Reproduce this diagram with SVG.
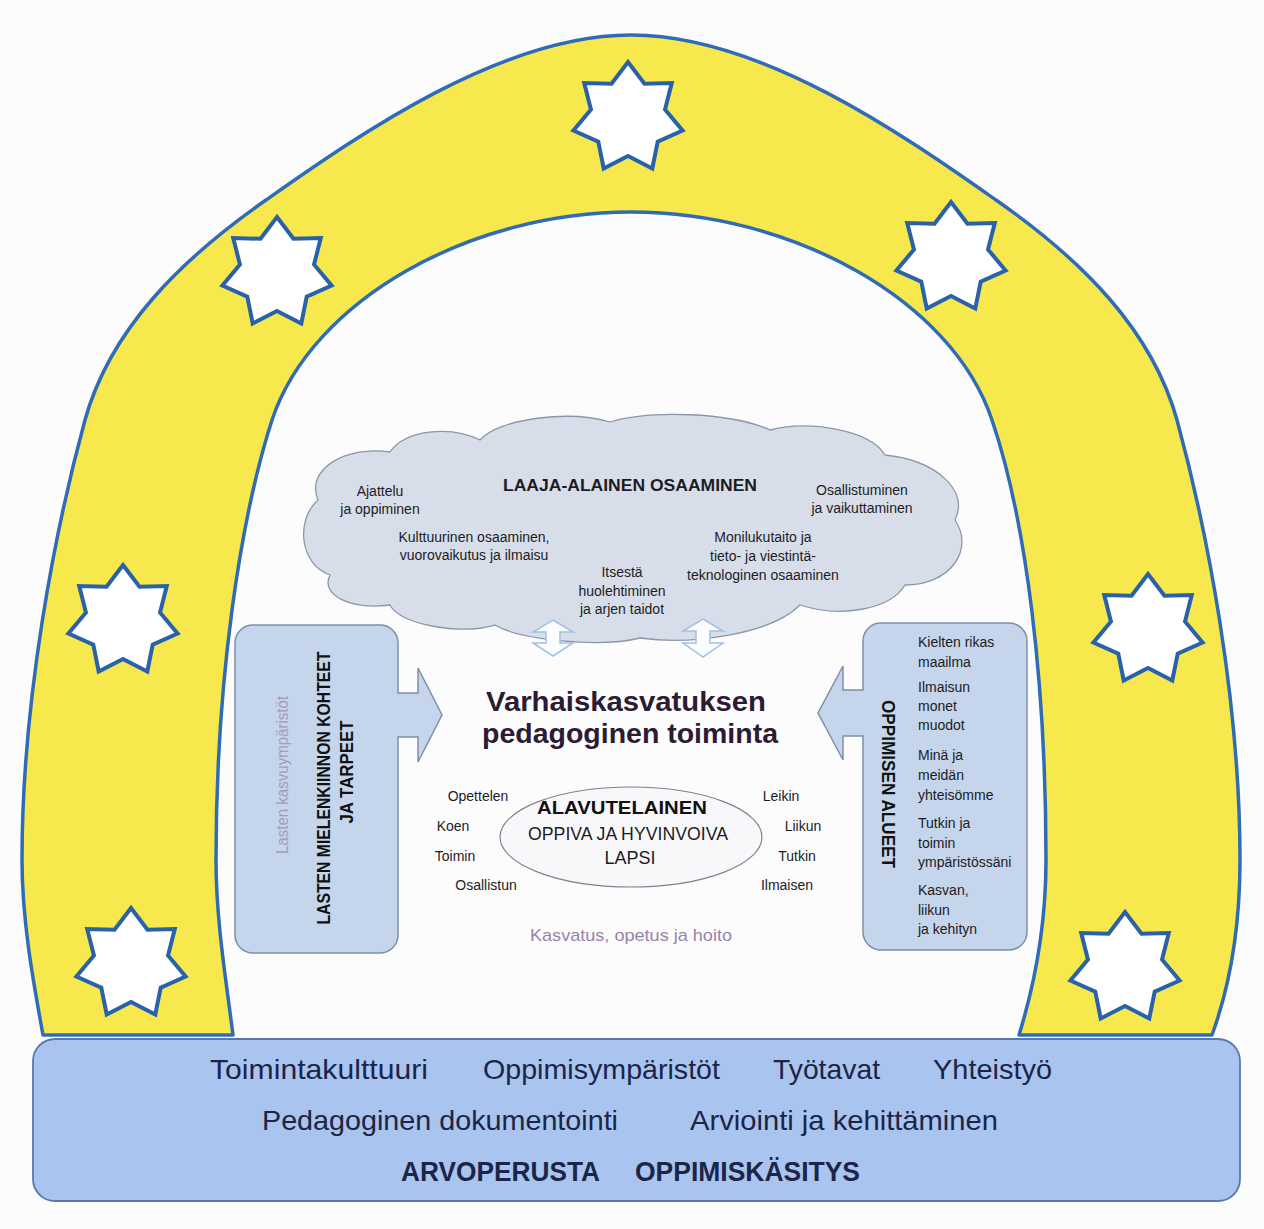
<svg xmlns="http://www.w3.org/2000/svg" xmlns:xlink="http://www.w3.org/1999/xlink" width="1264" height="1229" viewBox="0 0 1264 1229">
<defs>
<style>
text{font-family:"Liberation Sans","DejaVu Sans",sans-serif;fill:#1c1c24}
.s14{font-size:14px}
.band{font-size:28px;fill:#1c2448}
.bandb{font-size:27px;font-weight:bold;fill:#1c2448}
.title{font-size:28px;font-weight:bold;fill:#2b1b33}
.vb{font-size:18px;font-weight:bold;fill:#111}
.mid{text-anchor:middle}
.star{fill:#fff;stroke:#2a62aa;stroke-width:4;stroke-linejoin:miter}
.box{fill:#c4d5ec;stroke:#7f8ea8;stroke-width:1.5}
.dbl{fill:#fbfcfe;stroke:#9fc2e2;stroke-width:1.5}
</style>
<polygon id="star" points="0,-56 16.49,-34.24 43.78,-34.92 37.05,-8.46 54.59,12.46 29.71,23.69 24.3,50.46 0,38 -24.3,50.46 -29.71,23.69 -54.59,12.46 -37.05,-8.46 -43.78,-34.92 -16.49,-34.24"/>
</defs>
<rect width="1264" height="1229" fill="#fcfcfd"/>

<g id="arch">
<path d="M43,1035 C33,980 22,920 22,860 C22,700 55,530 85,420 C110,330 180,260 266,200 C356,137 500,35 631,35 C762,35 906,137 996,200 C1082,260 1152,330 1177,420 C1207,530 1240,700 1240,860 C1240,920 1232,980 1212,1035 L1019,1035 C1036,980 1046,920 1046,860 C1046,680 1026,520 992,420 C952,300 792,212 631,212 C470,212 312,300 272,420 C240,520 216,680 216,860 C216,920 226,980 233,1035 Z" fill="#f7e84e" stroke="#2f6cb5" stroke-width="3.5" stroke-linejoin="round"/>
<use xlink:href="#star" href="#star" class="star" transform="translate(628,118)"/>
<use xlink:href="#star" href="#star" class="star" transform="translate(277,273)"/>
<use xlink:href="#star" href="#star" class="star" transform="translate(951,258)"/>
<use xlink:href="#star" href="#star" class="star" transform="translate(123,621)"/>
<use xlink:href="#star" href="#star" class="star" transform="translate(1148,630)"/>
<use xlink:href="#star" href="#star" class="star" transform="translate(131,964)"/>
<use xlink:href="#star" href="#star" class="star" transform="translate(1125,968)"/>
</g>

<g id="base">
<rect x="33" y="1039" width="1207" height="162" rx="22" fill="#a9c5ef" stroke="#5a78ac" stroke-width="1.8"/>
<text class="band" x="210" y="1079" textLength="218" lengthAdjust="spacingAndGlyphs">Toimintakulttuuri</text>
<text class="band" x="483" y="1079" textLength="237" lengthAdjust="spacingAndGlyphs">Oppimisympäristöt</text>
<text class="band" x="773" y="1079" textLength="107" lengthAdjust="spacingAndGlyphs">Työtavat</text>
<text class="band" x="933" y="1079" textLength="119" lengthAdjust="spacingAndGlyphs">Yhteistyö</text>
<text class="band" x="262" y="1130" textLength="356" lengthAdjust="spacingAndGlyphs">Pedagoginen dokumentointi</text>
<text class="band" x="690" y="1130" textLength="308" lengthAdjust="spacingAndGlyphs">Arviointi ja kehittäminen</text>
<text class="bandb" x="401" y="1181" textLength="199" lengthAdjust="spacingAndGlyphs">ARVOPERUSTA</text>
<text class="bandb" x="635" y="1181" textLength="225" lengthAdjust="spacingAndGlyphs">OPPIMISKÄSITYS</text>
</g>

<g id="cloud">
<path d="M330,575 C300,565 295,520 318,500 C305,470 345,445 390,452 C405,430 450,425 480,440 C500,418 570,410 610,422 C650,410 730,412 770,430 C810,420 870,430 885,455 C935,460 970,490 955,520 C975,550 950,585 905,585 C890,610 840,618 800,605 C770,635 690,645 640,638 C600,648 520,640 495,625 C460,635 400,625 390,605 C350,610 320,595 330,575 Z" fill="#d8dee9" stroke="#8c96aa" stroke-width="1.3"/>
<text class="mid" x="630" y="491" style="font-size:16px;font-weight:bold" textLength="254" lengthAdjust="spacingAndGlyphs">LAAJA-ALAINEN OSAAMINEN</text>
<text class="s14 mid" x="380" y="496">Ajattelu</text>
<text class="s14 mid" x="380" y="514">ja oppiminen</text>
<text class="s14 mid" x="862" y="495">Osallistuminen</text>
<text class="s14 mid" x="862" y="513">ja vaikuttaminen</text>
<text class="s14 mid" x="474" y="542">Kulttuurinen osaaminen,</text>
<text class="s14 mid" x="474" y="560">vuorovaikutus ja ilmaisu</text>
<text class="s14 mid" x="763" y="542">Monilukutaito ja</text>
<text class="s14 mid" x="763" y="561">tieto- ja viestintä-</text>
<text class="s14 mid" x="763" y="580">teknologinen osaaminen</text>
<text class="s14 mid" x="622" y="577">Itsestä</text>
<text class="s14 mid" x="622" y="596">huolehtiminen</text>
<text class="s14 mid" x="622" y="614">ja arjen taidot</text>
</g>

<g id="connectors">
<polygon class="dbl" points="553,620 573,632 560,632 560,643 573,643 553,656 533,643 546,643 546,632 533,632"/>
<polygon class="dbl" points="703,619 723,631 710,631 710,643 723,643 703,657 683,643 696,643 696,631 683,631"/>
</g>

<g id="left-node">
<path class="box" d="M253,625 H380 A18,18 0 0 1 398,643 V693 H418 V668 L442,715 L418,762 V737 H398 V935 A18,18 0 0 1 380,953 H253 A18,18 0 0 1 235,935 V643 A18,18 0 0 1 253,625 Z"/>
<text class="mid" transform="translate(288,775) rotate(-90)" style="font-size:16px;fill:#a39db8" textLength="158" lengthAdjust="spacingAndGlyphs">Lasten kasvuympäristöt</text>
<text class="vb mid" transform="translate(330,788) rotate(-90)" textLength="273" lengthAdjust="spacingAndGlyphs">LASTEN MIELENKIINNON KOHTEET</text>
<text class="vb mid" transform="translate(353,772) rotate(-90)" textLength="103" lengthAdjust="spacingAndGlyphs">JA TARPEET</text>
</g>

<g id="right-node">
<path class="box" d="M881,623 H1009 A18,18 0 0 1 1027,641 V932 A18,18 0 0 1 1009,950 H881 A18,18 0 0 1 863,932 V736 H843 V760 L818,713 L843,666 V690 H863 V641 A18,18 0 0 1 881,623 Z"/>
<text class="vb mid" transform="translate(882,784) rotate(90)" textLength="168" lengthAdjust="spacingAndGlyphs">OPPIMISEN ALUEET</text>
<text class="s14" x="918" y="647">Kielten rikas</text>
<text class="s14" x="918" y="667">maailma</text>
<text class="s14" x="918" y="692">Ilmaisun</text>
<text class="s14" x="918" y="711">monet</text>
<text class="s14" x="918" y="730">muodot</text>
<text class="s14" x="918" y="760">Minä ja</text>
<text class="s14" x="918" y="780">meidän</text>
<text class="s14" x="918" y="800">yhteisömme</text>
<text class="s14" x="918" y="828">Tutkin ja</text>
<text class="s14" x="918" y="848">toimin</text>
<text class="s14" x="918" y="867">ympäristössäni</text>
<text class="s14" x="918" y="895">Kasvan,</text>
<text class="s14" x="918" y="915">liikun</text>
<text class="s14" x="918" y="934">ja kehityn</text>
</g>

<g id="center">
<text class="title mid" x="626" y="711" textLength="280" lengthAdjust="spacingAndGlyphs">Varhaiskasvatuksen</text>
<text class="title mid" x="630" y="743" textLength="296" lengthAdjust="spacingAndGlyphs">pedagoginen toiminta</text>
</g>

<g id="child">
<ellipse cx="631" cy="837" rx="131" ry="50" fill="#f8f8fb" stroke="#80808e" stroke-width="1.2"/>
<text class="mid" x="622" y="814" style="font-size:19px;font-weight:bold;fill:#111" textLength="170" lengthAdjust="spacingAndGlyphs">ALAVUTELAINEN</text>
<text class="mid" x="628" y="840" style="font-size:18px" textLength="200" lengthAdjust="spacingAndGlyphs">OPPIVA JA HYVINVOIVA</text>
<text class="mid" x="630" y="864" style="font-size:18px">LAPSI</text>
<text class="s14 mid" x="478" y="801">Opettelen</text>
<text class="s14 mid" x="453" y="831">Koen</text>
<text class="s14 mid" x="455" y="861">Toimin</text>
<text class="s14 mid" x="486" y="890">Osallistun</text>
<text class="s14 mid" x="781" y="801">Leikin</text>
<text class="s14 mid" x="803" y="831">Liikun</text>
<text class="s14 mid" x="797" y="861">Tutkin</text>
<text class="s14 mid" x="787" y="890">Ilmaisen</text>
<text class="mid" x="631" y="941" style="font-size:17px;fill:#9a82aa" textLength="202" lengthAdjust="spacingAndGlyphs">Kasvatus, opetus ja hoito</text>
</g>
</svg>
